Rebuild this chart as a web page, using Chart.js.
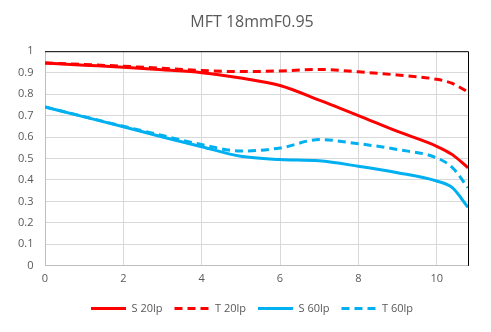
<!DOCTYPE html>
<html>
<head>
<meta charset="utf-8">
<script src="https://cdn.jsdelivr.net/npm/chart.js@4"></script>
<style>
  body { margin: 0; background: #fff; }
  #wrap { width: 491px; height: 332px; }
</style>
</head>
<body>
<div id="wrap"><canvas id="mtf"></canvas></div>
<script>
var xs = [0, 1, 2, 3, 4, 5, 6, 7, 8, 9, 10, 10.4, 10.8];
var s20 = [0.945, 0.935, 0.925, 0.913, 0.90, 0.875, 0.84, 0.772, 0.70, 0.626, 0.557, 0.518, 0.457];
var t20 = [0.945, 0.938, 0.93, 0.92, 0.91, 0.905, 0.908, 0.915, 0.904, 0.889, 0.869, 0.85, 0.81];
var s60 = [0.74, 0.694, 0.648, 0.60, 0.555, 0.51, 0.495, 0.489, 0.464, 0.434, 0.395, 0.364, 0.272];
var t60 = [0.74, 0.695, 0.65, 0.607, 0.565, 0.535, 0.549, 0.588, 0.569, 0.542, 0.503, 0.458, 0.364];
var xTicks = [0, 2, 4, 6, 8, 10];

function pts(arr) {
    return arr.map(function (v, i) { return { x: xs[i], y: v }; });
}

function line(label, arr, color, dashed) {
    return {
        label: label,
        data: pts(arr),
        borderColor: color,
        backgroundColor: color,
        borderWidth: 3,
        borderDash: dashed ? [8, 5] : [],
        pointRadius: 0,
        cubicInterpolationMode: 'monotone'
    };
}

// black frame on top and right like the original
var frame = {
    id: 'frame',
    afterDraw: function (chart) {
        var a = chart.chartArea, c = chart.ctx;
        c.save();
        c.strokeStyle = '#000';
        c.lineWidth = 1;
        c.beginPath();
        c.moveTo(a.left, a.top + 0.5);
        c.lineTo(a.right + 0.5, a.top + 0.5);
        c.lineTo(a.right + 0.5, a.bottom);
        c.stroke();
        c.restore();
    }
};

var ctx = document.getElementById('mtf').getContext('2d');
var chart = new Chart(ctx, {
    type: 'line',
    data: {
        datasets: [
            line('S 20lp', s20, '#FF0000', false),
            line('T 20lp', t20, '#FF0000', true),
            line('S 60lp', s60, '#00B0F0', false),
            line('T 60lp', t60, '#00B0F0', true)
        ]
    },
    options: {
        responsive: true,
        maintainAspectRatio: false,
        animation: false,
        layout: { padding: { top: 13, right: 23, left: 36, bottom: 8 } },
        font: { family: 'Open Sans' },
        plugins: {
            title: {
                display: true,
                text: 'MFT 18mmF0.95',
                color: '#595959',
                font: { size: 16, weight: 'normal', family: 'Open Sans' },
                padding: { top: 0, bottom: 19 }
            },
            legend: {
                position: 'bottom',
                labels: {
                    usePointStyle: true,
                    pointStyle: 'line',
                    pointStyleWidth: 35,
                    color: '#595959',
                    padding: 12,
                    font: { size: 11, family: 'Open Sans' },
                    generateLabels: function (chart) {
                        var items = Chart.defaults.plugins.legend.labels.generateLabels(chart);
                        items.forEach(function (it) {
                            it.lineDash = chart.data.datasets[it.datasetIndex].borderDash;
                        });
                        return items;
                    }
                }
            },
            tooltip: { enabled: false }
        },
        scales: {
            x: {
                type: 'linear',
                min: 0,
                max: 10.8,
                afterBuildTicks: function (scale) {
                    scale.ticks = xTicks.map(function (v) { return { value: v }; });
                },
                ticks: {
                    color: '#595959',
                    font: { size: 11 },
                    padding: 6
                },
                grid: { color: '#d9d9d9', drawTicks: false },
                border: { color: '#bfbfbf' }
            },
            y: {
                min: 0,
                max: 1,
                ticks: {
                    stepSize: 0.1,
                    color: '#595959',
                    font: { size: 11 },
                    // mirrored labels are not clipped to the narrow axis box
                    mirror: true,
                    crossAlign: 'far',
                    padding: -27,
                    callback: function (v) { return String(Number(v.toFixed(1))); }
                },
                grid: { color: '#d9d9d9', drawTicks: false },
                border: { color: '#bfbfbf' },
                afterFit: function (scale) { scale.width = 9; }
            }
        }
    },
    plugins: [frame]
});
</script>
</body>
</html>
